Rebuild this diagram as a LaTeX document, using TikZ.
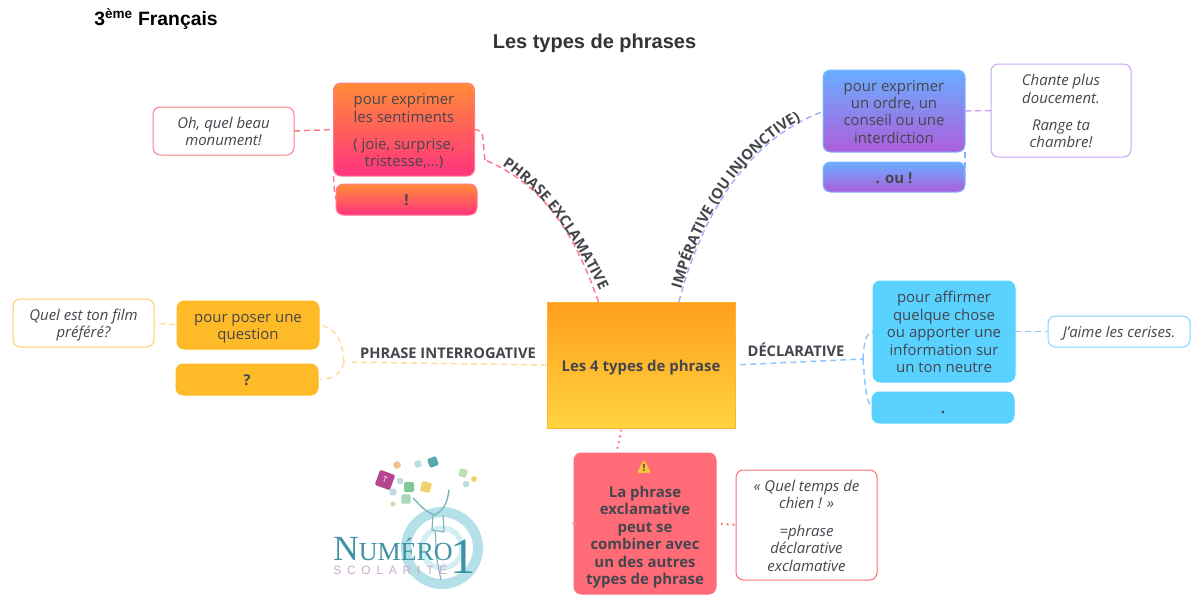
\documentclass[tikz,border=0pt]{standalone}
\usepackage{fontspec}
\setmainfont{Open Sans}
\newfontfamily\arialfont{Liberation Sans}
\newfontfamily\logoserif{Liberation Serif}
\newfontfamily\logospaced[LetterSpace=48]{Liberation Sans}
\usetikzlibrary{decorations.text,calc}
\definecolor{ink}{HTML}{45454D}
\definecolor{cPink}{HTML}{FF7B8A}
\definecolor{cPurple}{HTML}{C9A5F5}
\definecolor{cBlueV}{HTML}{A5B0FA}
\definecolor{cYellowL}{HTML}{FFDD9E}
\definecolor{cBlueL}{HTML}{8FC6FF}
\definecolor{cRed}{HTML}{FF6C78}
\definecolor{FF8C36}{HTML}{FF8C36}
\definecolor{FF337F}{HTML}{FF337F}
\definecolor{BlueEdge}{HTML}{7DB8FF}
\definecolor{GradTop}{HTML}{69AEFF}
\definecolor{GradBot}{HTML}{AD5EDB}
\definecolor{SolidY}{HTML}{FFBA27}
\definecolor{SolidC}{HTML}{5AD2FF}
\definecolor{CentTop}{HTML}{FF9F1C}
\definecolor{CentBot}{HTML}{FFD43F}
\definecolor{CentEdge}{HTML}{FFB52E}
\definecolor{logoTeal}{HTML}{3F93A5}
\definecolor{logoRing}{HTML}{B4E0E8}
\definecolor{logoRingB}{HTML}{D3EEF2}
\definecolor{logoMauve}{HTML}{CBAACB}
\definecolor{FFBA}{HTML}{FFC23C}
\definecolor{CMag}{HTML}{B8458F}
\definecolor{CGrn}{HTML}{7FC89A}
\definecolor{CYel}{HTML}{EFD36A}
\definecolor{CTeal}{HTML}{5AA9A8}
\definecolor{COrg}{HTML}{F0C090}
\definecolor{CPale}{HTML}{BFDDE0}
\definecolor{CGrnL}{HTML}{BFE0B0}
\newcommand{\bodyfont}{\fontsize{11.2}{13.1}\selectfont}
\newcommand{\labelfont}{\fontsize{11}{13}\selectfont\bfseries\color{ink}}
\newcommand{\gap}{\\[7.4pt]}
\newcommand{\boxnode}[7]{%
  \pgfmathsetmacro\bw{(#5-#3)*0.75}\pgfmathsetmacro\bh{(#6-#4)*0.75}%
  \pgfmathsetmacro\bcx{(#3+#5)/2}\pgfmathsetmacro\bcy{(#4+#6)/2}%
  \node[#2,minimum width=\bw pt,minimum height=\bh pt] (#1) at (\bcx,\bcy) {\rule{0pt}{11.9pt}#7\rule[-2.6pt]{0pt}{0pt}};}
\tikzset{
  basebox/.style={rectangle,rounded corners=5.5pt,inner sep=0pt,outer sep=0pt,align=center,
    font=\bodyfont,text=ink,line width=0.75pt},
  gradpink/.style={basebox,draw=cPink,top color=FF8C36,bottom color=FF337F},
  gradviolet/.style={basebox,draw=BlueEdge,top color=GradTop,bottom color=GradBot},
  solidyellow/.style={basebox,fill=SolidY,draw=SolidY},
  solidcyan/.style={basebox,fill=SolidC,draw=SolidC},
  example/.style={basebox,fill=white,font=\bodyfont\itshape},
  link/.style={line width=1.1pt,dash pattern=on 4.5pt off 3pt},
  dotlink/.style={line width=2.1pt,cRed!85,line cap=round,dash pattern=on 0pt off 4.4pt},
  curvelabel/.style={decorate,decoration={text along path,text align=center,
    text format delimiters={|}{|},text={|\labelfont|#1}}},
  flatlabel/.style={font=\labelfont,inner sep=0pt},
  chip/.style={rounded corners=1pt,minimum size=#1,inner sep=0pt},
}
\begin{document}
\begin{tikzpicture}[x=0.75pt,y=-0.75pt]
\useasboundingbox (0,0) rectangle (1198,614);
\fill[white] (0,0) rectangle (1198,614);
% titles
\node[anchor=base west,inner sep=0pt,font=\arialfont\bfseries\fontsize{14.5}{16}\selectfont] (head) at (94,25) {3\textsuperscript{ème} Français};
\node[anchor=base,inner sep=0pt,font=\arialfont\bfseries\fontsize{15}{17}\selectfont,text=black!80] (title) at (594.5,48) {Les types de phrases};
% centre
\boxnode{cent}{basebox,rounded corners=0pt,draw=CentEdge,top color=CentTop,bottom color=CentBot,font=\bodyfont\bfseries}{547}{302}{735}{428}{Les 4 types de phrase}
% exclamative
\boxnode{exMain}{gradpink}{333.5}{83}{474.5}{176}{pour exprimer\\les sentiments\gap( joie, surprise,\\tristesse,...)}
\boxnode{exSmall}{gradpink,font=\bodyfont\bfseries}{336}{184}{477}{215}{!}
\boxnode{exEx}{example,draw=cPink}{153}{107}{294}{155}{Oh, quel beau\\monument!}
% imperative
\boxnode{impMain}{gradviolet}{823}{70}{965}{152}{pour exprimer\\un ordre, un\\conseil ou une\\interdiction}
\boxnode{impSmall}{gradviolet,font=\bodyfont\bfseries}{823}{162}{965}{192}{. ou !}
\boxnode{impEx}{example,draw=cPurple}{991}{64}{1131}{157}{Chante plus\\doucement.\gap Range ta\\chambre!}
% interrogative
\boxnode{qMain}{solidyellow}{177}{301}{319}{349}{pour poser une\\question}
\boxnode{qSmall}{solidyellow,font=\bodyfont\bfseries}{176}{364}{318}{395}{?}
\boxnode{qEx}{example,draw=SolidY!70}{13}{299}{154}{347}{Quel est ton film\\préféré?}
% declarative
\boxnode{dMain}{solidcyan}{873}{281}{1015}{382}{pour affirmer\\quelque chose\\ou apporter une\\information sur\\un ton neutre}
\boxnode{dSmall}{solidcyan,font=\bodyfont\bfseries}{872}{392}{1014}{423}{.}
\boxnode{dEx}{example,draw=SolidC!80}{1048}{316}{1190}{347}{J'aime les cerises.}
% warning
\boxnode{warn}{basebox,fill=cRed,draw=cRed,font=\bodyfont\bfseries}{574}{453}{716}{594}{\\[3.9pt]La phrase\\exclamative\\peut se\\combiner avec\\un des autres\\types de phrase}
\boxnode{warnEx}{example,draw=cRed}{736}{470}{877}{580}{« Quel temps de\\chien ! »\gap =phrase\\déclarative\\exclamative}
\fill[FFBA,line join=round,draw=FFBA,line width=1.5pt] (638.5,472) -- (644,461.5) -- (649.5,472) -- cycle;
\node[font=\fontsize{7.5}{8}\selectfont\bfseries,text=ink,inner sep=0pt] (warnMark) at (644,467.5) {!};
% junctions
\coordinate (jEx) at (485,160);
\coordinate (jImp) at (822,112);
\coordinate (jQ) at (344,362);
\coordinate (jD) at (863,359);
% connectors
\draw[link,cPink] (cent.124.3) .. controls (575,235) and (545,185) .. (jEx);
\draw[link,cPink] (jEx) .. controls (482,135) and (485,131) .. (exMain.east);
\draw[link,cPink] (exEx.east) -- (exMain.west);
\draw[link,cPink] (exMain.south west) .. controls (334,185) and (334,192) .. (exSmall.west);
\draw[link,cBlueV] (cent.59.6) .. controls (700,220) and (745,140) .. (jImp);
\draw[link,cPurple] (impMain.east) -- (impEx.west);
\draw[link,BlueEdge] (impMain.south east) -- (impSmall.east);
\draw[link,cYellowL,shorten >=6pt] (cent.west) -- (jQ);
\draw[link,cYellowL,shorten >=3pt] (jQ) .. controls (342,340) and (336,329) .. (qMain.east);
\draw[link,cYellowL,shorten >=2pt] (jQ) .. controls (342,372) and (334,379) .. (qSmall.east);
\draw[link,cYellowL,shorten <=4pt] (qEx.east) -- (qMain.west);
\draw[link,cBlueL,shorten <=4pt] (cent.east) -- (jD);
\draw[link,cBlueL] (jD) .. controls (864,342) and (866,333) .. (dMain.west);
\draw[link,cBlueL] (jD) .. controls (865,385) and (866,402) .. (dSmall.west);
\draw[link,cBlueL] (dMain.east) -- (dEx.west);
\draw[dotlink,shorten >=2pt,shorten <=2pt] (cent.-107) -- (warn.112);
\draw[dotlink] (warn.east) -- (warnEx.west);
\fill[cRed!80] (warn.west) circle (1.8);
% connector labels
\path[curvelabel={PHRASE EXCLAMATIVE}] (500,164) .. controls (543,191) and (573,235) .. (601,293);
\path[curvelabel={IMPÉRATIVE (OU INJONCTIVE)}] (680,294) .. controls (698,226) and (738,151) .. (805,118);
\node[flatlabel,anchor=base] (lQ) at (448,358) {PHRASE INTERROGATIVE};
\node[flatlabel,anchor=base] (lD) at (796,356) {DÉCLARATIVE};
% logo
\draw[logoRing,line width=7.5pt] (442,548) circle (36);
\draw[logoRingB,line width=4pt] (442,548) circle (20);
\draw[line width=1pt,color=logoTeal!70,line cap=round,line join=round]
  (413,498) .. controls (420,505) and (425,512) .. (435,515) .. controls (443,510) and (447,505) .. (449,490);
\draw[line width=0.8pt,color=logoTeal!70] (433,515) -- (432,530) -- (444,532) -- (443,515);
\draw[line width=0.8pt,color=logoTeal!70] (435,530) -- (437,560) -- (441,580);
\node[chip=12pt,fill=CMag,rotate=-20,font=\fontsize{6}{6}\selectfont,text=white] (c1) at (385,480) {T};
\node[chip=7.5pt,fill=CGrn] (c2) at (409,487) {};
\node[chip=7.5pt,fill=CYel,rotate=-15] (c3) at (426,487) {};
\node[chip=7pt,fill=CTeal,rotate=20] (c4) at (433,462) {};
\node[chip=5pt,fill=COrg,rotate=30] (c5) at (397,465) {};
\node[chip=5pt,fill=CPale,rotate=20] (c6) at (418,464) {};
\node[chip=6pt,fill=CGrnL,rotate=-15] (c7) at (463,473) {};
\node[chip=4.5pt,fill=CPale] (c8) at (466,484) {};
\node[chip=4pt,fill=CYel,rotate=80] (c9) at (474,479) {};
\node[chip=7pt,fill=CGrn!70] (c10) at (406,499) {};
\node[chip=3.5pt,fill=CGrnL,rotate=-30] (c11) at (393,504) {};
\node[chip=5pt,fill=CPale] (c12) at (393,492) {};
\node[chip=4.5pt,fill=CPale] (c13) at (400,481) {};
\node[anchor=base west,inner sep=0pt,text=logoTeal,font=\logoserif\fontsize{26.5}{27}\selectfont] (logoN) at (333,560) {N\fontsize{19.5}{20}\selectfont UMÉRO};
\node[anchor=base,inner sep=0pt,text=logoTeal,font=\logoserif\fontsize{38}{38}\selectfont] (logoOne) at (463,573) {1};
\node[anchor=base west,inner sep=0pt,text=logoMauve,font=\logospaced\fontsize{9}{9}\selectfont] (logoS) at (333,574) {SCOLARITÉ};
\end{tikzpicture}
\end{document}
